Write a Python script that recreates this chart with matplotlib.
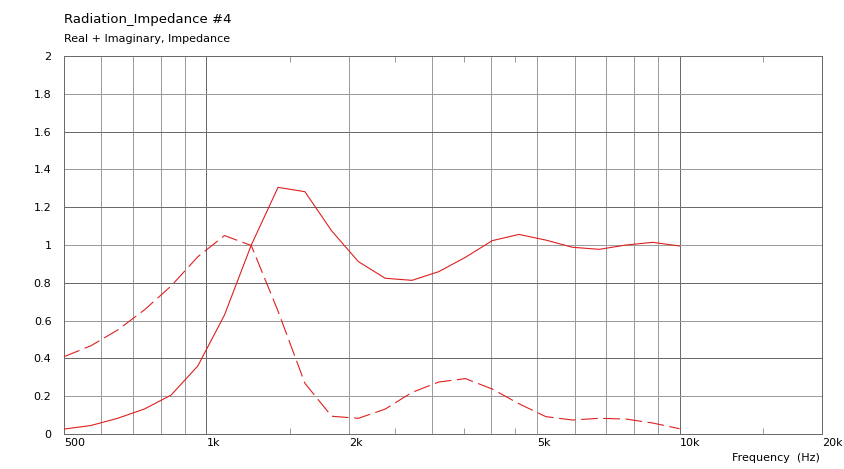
import numpy as np
import matplotlib.pyplot as plt
from matplotlib.ticker import FixedLocator, NullFormatter

freq = [500, 570, 649, 739, 842, 959, 1092, 1244, 1417, 1615, 1839, 2095,
        2387, 2719, 3097, 3528, 4018, 4577, 5214, 5939, 6765, 7707, 8779, 10000]
real = [0.026, 0.045, 0.083, 0.132, 0.206, 0.36, 0.63, 1.0, 1.305, 1.282, 1.075, 0.912,
        0.824, 0.813, 0.859, 0.935, 1.023, 1.056, 1.026, 0.988, 0.977, 1.0, 1.014, 0.995]
imag = [0.409, 0.467, 0.55, 0.656, 0.783, 0.938, 1.05, 0.997, 0.65, 0.268, 0.094, 0.083,
        0.132, 0.22, 0.275, 0.293, 0.238, 0.16, 0.092, 0.074, 0.083, 0.079, 0.058, 0.028]

xticks = [500, 1000, 2000, 5000, 10000, 20000]
xticklabels = ['500', '1k', '2k', '5k', '10k', '20k']
light_x = [600, 700, 800, 900, 2000, 3000, 4000, 5000, 6000, 7000, 8000, 9000]
dark_x = [1000, 10000]
minor_x = [1500, 2500, 3500, 4500, 15000]
yticks = [0, 0.2, 0.4, 0.6, 0.8, 1, 1.2, 1.4, 1.6, 1.8, 2]
yticklabels = ['0', '0.2', '0.4', '0.6', '0.8', '1', '1.2', '1.4', '1.6', '1.8', '2']

plt.rcParams['lines.scale_dashes'] = False
W, H = 844, 469
fig = plt.figure(figsize=(W / 100, H / 100), dpi=100)
ax = fig.add_axes([64 / W, 1 - 434 / H, (822 - 64) / W, (434 - 56) / H])

dark = '#6a6a6a'
light = '#9c9c9c'
red = '#dd2020'
px = 0.72  # one pixel in points

ax.set_xscale('log')
ax.set_xlim(500, 20000)
ax.set_ylim(0, 2)

for x in light_x:
    ax.axvline(x, color=light, lw=px, zorder=1)
for x in dark_x:
    ax.axvline(x, color=dark, lw=px, zorder=1)
for i, y in enumerate(yticks[1:-1]):
    ax.axhline(y, color=dark if (i % 2 == 1) else light, lw=px, zorder=1)

ax.plot(freq, real, color=red, lw=0.8, zorder=3)
ax.plot(freq, imag, color=red, lw=0.8, dashes=(12, 4), zorder=3)

for s in ax.spines.values():
    s.set_color(dark)
    s.set_linewidth(px)

ax.xaxis.set_major_locator(FixedLocator(xticks))
ax.xaxis.set_minor_locator(FixedLocator(minor_x))
ax.xaxis.set_minor_formatter(NullFormatter())
ax.set_xticklabels(xticklabels, ha='left')
ax.tick_params(axis='x', which='major', length=0, pad=3, labelsize=8, colors='black')
ax.tick_params(axis='x', which='minor', direction='in', length=4, width=px,
               color=light, top=True, bottom=True)

ax.set_yticks(yticks)
ax.set_yticklabels(yticklabels)
ax.tick_params(axis='y', length=0, pad=9, labelsize=8, colors='black')

fig.text(64 / W, 1 - 20 / H, 'Radiation_Impedance #4', fontsize=9.5, ha='left', va='center')
fig.text(64 / W, 1 - 39 / H, 'Real + Imaginary, Impedance', fontsize=8, ha='left', va='center')
fig.text(820 / W, 1 - 458 / H, 'Frequency  (Hz)', fontsize=8, ha='right', va='center')

fig.savefig('out.png', dpi=100)
